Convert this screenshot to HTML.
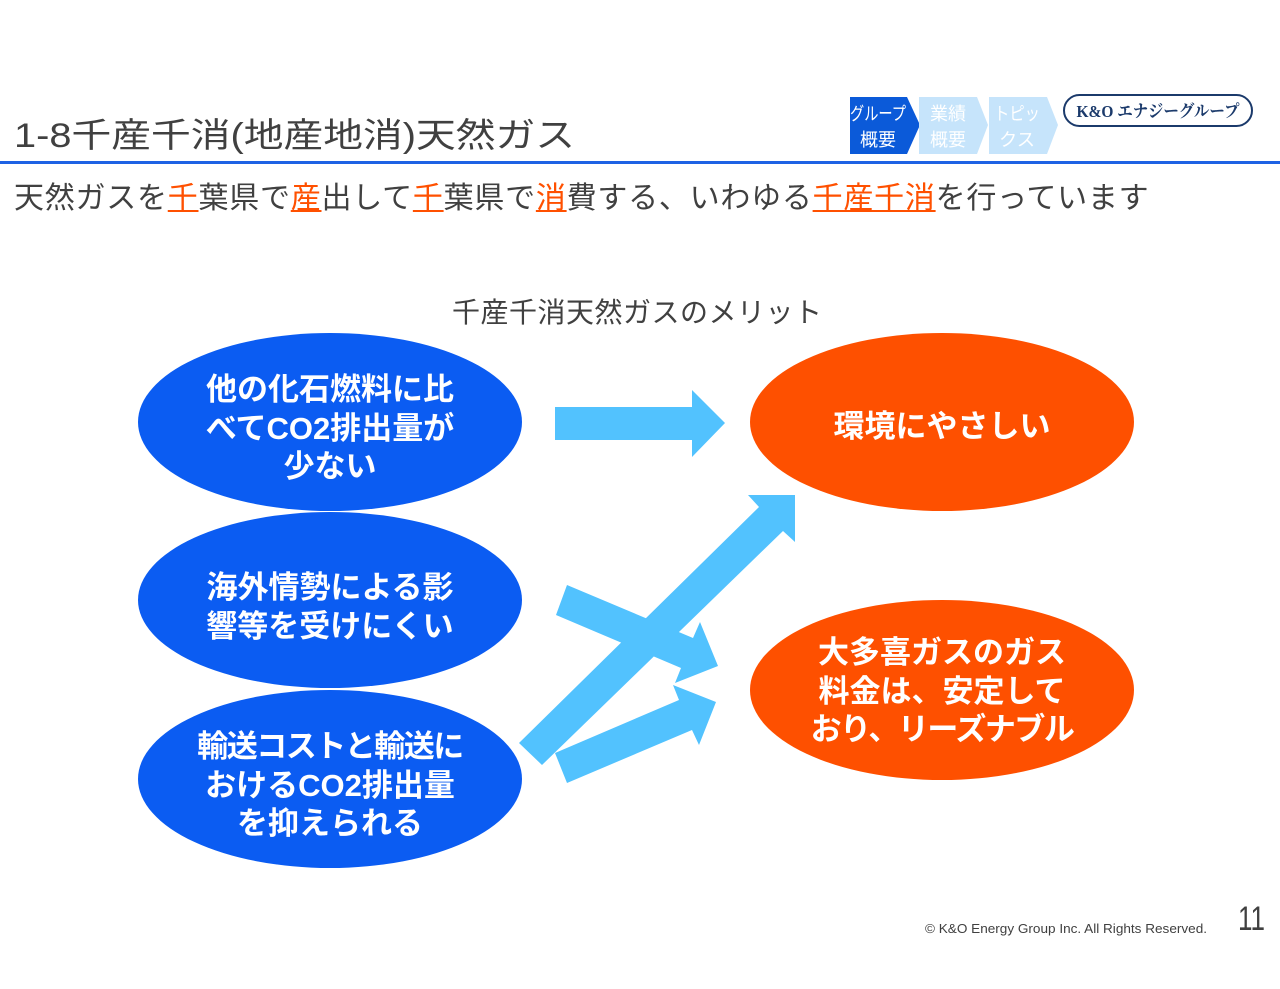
<!DOCTYPE html>
<html><head><meta charset="utf-8">
<style>
html,body{margin:0;padding:0;background:#fff;}
#wrap{position:relative;width:1280px;height:989px;overflow:hidden;background:#fff;}
svg{position:absolute;left:0;top:0;}
.t{position:absolute;white-space:nowrap;font-family:"Liberation Sans","Noto Sans CJK JP",sans-serif;}
.sub{left:14px;top:184px;font-size:30px;line-height:30px;letter-spacing:0.75px;color:#404040;}
.sub .r{color:#ff5000;text-decoration:underline;text-decoration-thickness:2px;text-underline-offset:2px;}
.el{color:#fff;font-weight:bold;font-size:31px;line-height:38.5px;text-align:center;width:384px;}
.n{letter-spacing:-1.5px;}
</style></head>
<body><div id="wrap">
<svg width="1280" height="989" viewBox="0 0 1280 989" xmlns="http://www.w3.org/2000/svg">
  <!-- title -->
  <text x="14" y="147" font-family="Liberation Sans, Noto Sans CJK JP, sans-serif" font-size="34" fill="#404040" textLength="561" lengthAdjust="spacingAndGlyphs">1-8千産千消(地産地消)天然ガス</text>
  <rect x="0" y="161" width="1280" height="3" fill="#1e62e4"/>
  <!-- tabs -->
  <polygon points="850,97 907,97 920,125 907,154 850,154" fill="#0b5ad9"/>
  <polygon points="919,97 977,97 988,125 977,154 919,154" fill="#c6e4fb"/>
  <polygon points="989,97 1047,97 1058,125 1047,154 989,154" fill="#c6e4fb"/>
  <g font-family="Liberation Sans, Noto Sans CJK JP, sans-serif" font-size="18" fill="#fff" text-anchor="middle">
    <text x="878" y="120" textLength="56" lengthAdjust="spacingAndGlyphs">グループ</text>
    <text x="878" y="146" textLength="36" lengthAdjust="spacingAndGlyphs">概要</text>
    <text x="948" y="120" textLength="36" lengthAdjust="spacingAndGlyphs">業績</text>
    <text x="948" y="146" textLength="36" lengthAdjust="spacingAndGlyphs">概要</text>
    <text x="1017" y="120" textLength="46" lengthAdjust="spacingAndGlyphs">トピッ</text>
    <text x="1017" y="146" textLength="36" lengthAdjust="spacingAndGlyphs">クス</text>
  </g>
  <!-- logo -->
  <rect x="1064" y="95" width="188" height="31" rx="15.5" ry="15.5" fill="none" stroke="#1b3a6b" stroke-width="2"/>
  <text x="1158" y="117" text-anchor="middle" font-family="Liberation Serif, Noto Serif CJK SC, serif" font-weight="bold" font-size="17" fill="#1b3a6b" textLength="163" lengthAdjust="spacingAndGlyphs">K&amp;O エナジーグループ</text>
  <!-- heading -->
  <text x="452" y="322" font-family="Liberation Sans, Noto Sans CJK JP, sans-serif" font-size="28" fill="#404040" textLength="370" lengthAdjust="spacing">千産千消天然ガスのメリット</text>
  <!-- ellipses -->
  <ellipse cx="330" cy="422" rx="192" ry="89" fill="#0b5cf2"/>
  <ellipse cx="330" cy="600" rx="192" ry="88" fill="#0b5cf2"/>
  <ellipse cx="330" cy="779" rx="192" ry="89" fill="#0b5cf2"/>
  <ellipse cx="942" cy="422" rx="192" ry="89" fill="#fe5000"/>
  <ellipse cx="942" cy="690" rx="192" ry="90" fill="#fe5000"/>
  <!-- arrows -->
  <g fill="#52c2fe">
    <polygon points="555,407 692,407 692,390 725,423 692,457 692,440 555,440"/>
    <polygon points="567,585 693,638 700,622 718,666 675,683 681,668 556,615"/>
    <polygon points="519,743 759,507 748,495 795,495 795,542 783,531 542,765"/>
    <polygon points="555,753 679,700 673,685 716,702 699,745 692,730 567,783"/>
  </g>
  <!-- footer -->
  <text x="925" y="933" font-family="Liberation Sans, sans-serif" font-size="13" fill="#404040" textLength="282" lengthAdjust="spacingAndGlyphs">© K&amp;O Energy Group Inc. All Rights Reserved.</text>
  <text x="1238" y="930" font-family="Liberation Sans, sans-serif" font-size="34" fill="#404040" textLength="27" lengthAdjust="spacingAndGlyphs">11</text>
</svg>

<div class="t sub">天然ガスを<span class="r">千</span>葉県で<span class="r">産</span>出して<span class="r">千</span>葉県で<span class="r">消</span>費する、いわゆる<span class="r">千産千消</span>を行っています</div>

<div class="t el" style="left:138px;top:371px;">他の化石燃料に比<br>べてCO2排出量が<br>少ない</div>
<div class="t el" style="left:138px;top:569px;">海外情勢による影<br>響等を受けにくい</div>
<div class="t el" style="left:138px;top:728px;"><span class="n">輸送コストと輸送に</span><br>おけるCO2排出量<br>を抑えられる</div>
<div class="t el" style="left:750px;top:408px;">環境にやさしい</div>
<div class="t el" style="left:750px;top:634px;">大多喜ガスのガス<br>料金は、安定して<br><span class="n">おり、リーズナブル</span></div>
</div></body></html>
